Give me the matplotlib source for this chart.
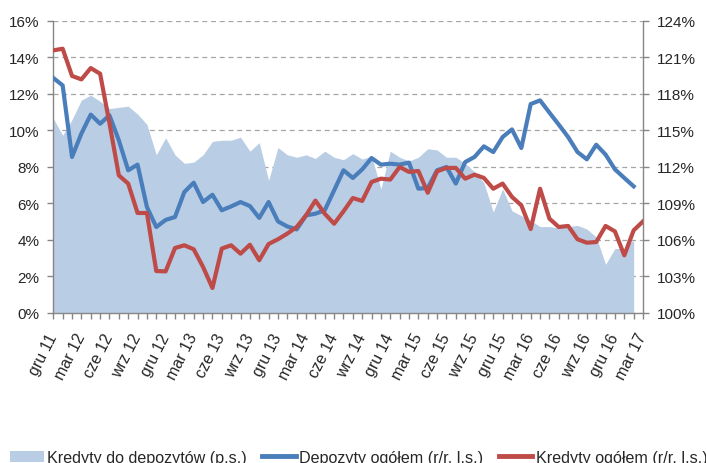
import numpy as np
import matplotlib
matplotlib.use("Agg")
import matplotlib.pyplot as plt
from matplotlib.patches import Patch
from matplotlib.lines import Line2D

plt.rcParams['font.family'] = ['Liberation Sans', 'DejaVu Sans']

tick_labels = ["gru 11", "mar 12", "cze 12", "wrz 12", "gru 12", "mar 13", "cze 13", "wrz 13",
               "gru 13", "mar 14", "cze 14", "wrz 14", "gru 14", "mar 15", "cze 15", "wrz 15",
               "gru 15", "mar 16", "cze 16", "wrz 16", "gru 16", "mar 17"]

# Depozyty ogółem (r/r, l.s.) - gru 11 .. lut 17
deposits = [12.88, 12.47, 8.55, 9.83, 10.87, 10.37, 10.83, 9.46, 7.82, 8.13,
            5.81, 4.71, 5.10, 5.26, 6.63, 7.14, 6.08, 6.48, 5.63, 5.84,
            6.08, 5.86, 5.21, 6.08, 5.02, 4.74, 4.58, 5.35, 5.44, 5.63,
            6.72, 7.82, 7.40, 7.87, 8.49, 8.13, 8.18, 8.13, 8.24, 6.81,
            6.85, 7.82, 8.00, 7.09, 8.27, 8.55, 9.13, 8.82, 9.64, 10.06,
            9.04, 11.45, 11.65, 10.98, 10.32, 9.64, 8.82, 8.42, 9.22, 8.68,
            7.87, 7.40, 6.94]

# Kredyty ogółem (r/r, l.s.) - gru 11 .. mar 17
credits = [14.39, 14.48, 12.99, 12.80, 13.42, 13.11, 10.40, 7.54, 7.09, 5.48,
           5.48, 2.30, 2.28, 3.56, 3.71, 3.49, 2.52, 1.37, 3.53, 3.71,
           3.25, 3.74, 2.89, 3.78, 4.04, 4.35, 4.71, 5.35, 6.16, 5.44,
           4.89, 5.57, 6.30, 6.14, 7.18, 7.36, 7.31, 8.00, 7.73, 7.78,
           6.59, 7.76, 7.95, 7.95, 7.36, 7.58, 7.40, 6.81, 7.09, 6.36,
           5.90, 4.60, 6.81, 5.17, 4.71, 4.77, 4.04, 3.85, 3.89, 4.77,
           4.47, 3.16, 4.53, 5.02]

# Kredyty do depozytów (p.s.) - gru 11 .. lut 17
ratio = [116.0, 114.6, 115.9, 117.5, 117.9, 117.4, 116.8, 116.9, 117.0, 116.35,
         115.5, 113.0, 114.4, 113.0, 112.3, 112.4, 113.0, 114.1, 114.2, 114.2,
         114.45, 113.3, 114.0, 110.9, 113.6, 113.0, 112.8, 113.0, 112.7, 113.3,
         112.8, 112.6, 113.1, 112.65, 112.9, 110.2, 113.3, 112.8, 112.5, 112.8,
         113.5, 113.4, 112.8, 112.8, 112.3, 111.6, 110.7, 108.3, 110.2, 108.4,
         108.0, 107.6, 107.1, 107.1, 107.0, 107.1, 107.2, 106.9, 106.25, 104.0,
         105.3, 105.3, 106.0]

blue = '#4A7EBB'
red = '#BE4B48'
area_c = '#B9CDE5'
grey = '#868686'
txt = '#262626'

fig = plt.figure(figsize=(7.06, 4.64), dpi=100)
ax = fig.add_axes([0.0755, 0.3233, 0.9108 - 0.0755, 0.9526 - 0.3233])
ax2 = ax.twinx()

x_r = np.arange(len(ratio))
ax2.fill_between(x_r, 100, ratio, color=area_c, linewidth=0, zorder=2)
ax2.set_ylim(100, 124)
ax2.set_yticks(np.arange(100, 125, 3))
ax2.set_yticklabels([f"{v}%" for v in range(100, 125, 3)])
ax2.yaxis.grid(True, linestyle=(0, (4, 3)), color='#A6A6A6', linewidth=0.9)
ax2.set_axisbelow(True)

ax.plot(np.arange(len(deposits)), deposits, color=blue, lw=3.0, solid_joinstyle='round', zorder=3)
ax.plot(np.arange(len(credits)), credits, color=red, lw=3.0, solid_joinstyle='round', zorder=4)
ax.set_ylim(0, 16)
ax.set_yticks(np.arange(0, 17, 2))
ax.set_yticklabels([f"{v}%" for v in range(0, 17, 2)])
ax.set_xlim(0, len(credits) - 1)
ax.set_xticks(np.arange(0, len(credits), 3))
ax.set_xticklabels(tick_labels, rotation=63, ha='right', va='center', rotation_mode='anchor')
ax.set_xticks(np.arange(0, len(credits)), minor=True)

ax.set_zorder(ax2.get_zorder() + 1)
ax.patch.set_visible(False)

for a in (ax, ax2):
    for s in a.spines.values():
        s.set_visible(False)
ax.spines['left'].set_visible(True)
ax.spines['bottom'].set_visible(True)
ax2.spines['right'].set_visible(True)
for s in (ax.spines['left'], ax.spines['bottom'], ax2.spines['right']):
    s.set_color(grey)
    s.set_linewidth(1.0)

ax.tick_params(axis='y', which='major', length=4, width=1, color=grey, labelsize=11, labelcolor=txt, pad=6)
ax2.tick_params(axis='y', which='major', length=4, width=1, color=grey, labelsize=11, labelcolor=txt, pad=6)
ax.tick_params(axis='x', which='both', length=4, width=1, color=grey, labelsize=11.5, labelcolor=txt, pad=11)

handles = [Patch(facecolor=area_c, edgecolor='none'),
           Line2D([], [], color=blue, lw=3.5),
           Line2D([], [], color=red, lw=3.5)]
labels = ["Kredyty do depozytów (p.s.)", "Depozyty ogółem (r/r, l.s.)", "Kredyty ogółem (r/r, l.s.)"]
fig.legend(handles, labels, loc='center', bbox_to_anchor=(0.508, 0.012), ncol=3, frameon=False,
           fontsize=11.6, handlelength=2.1, handletextpad=0.2, columnspacing=0.95,
           labelcolor=txt, borderpad=0, borderaxespad=0)

fig.savefig("out.png", dpi=100)
